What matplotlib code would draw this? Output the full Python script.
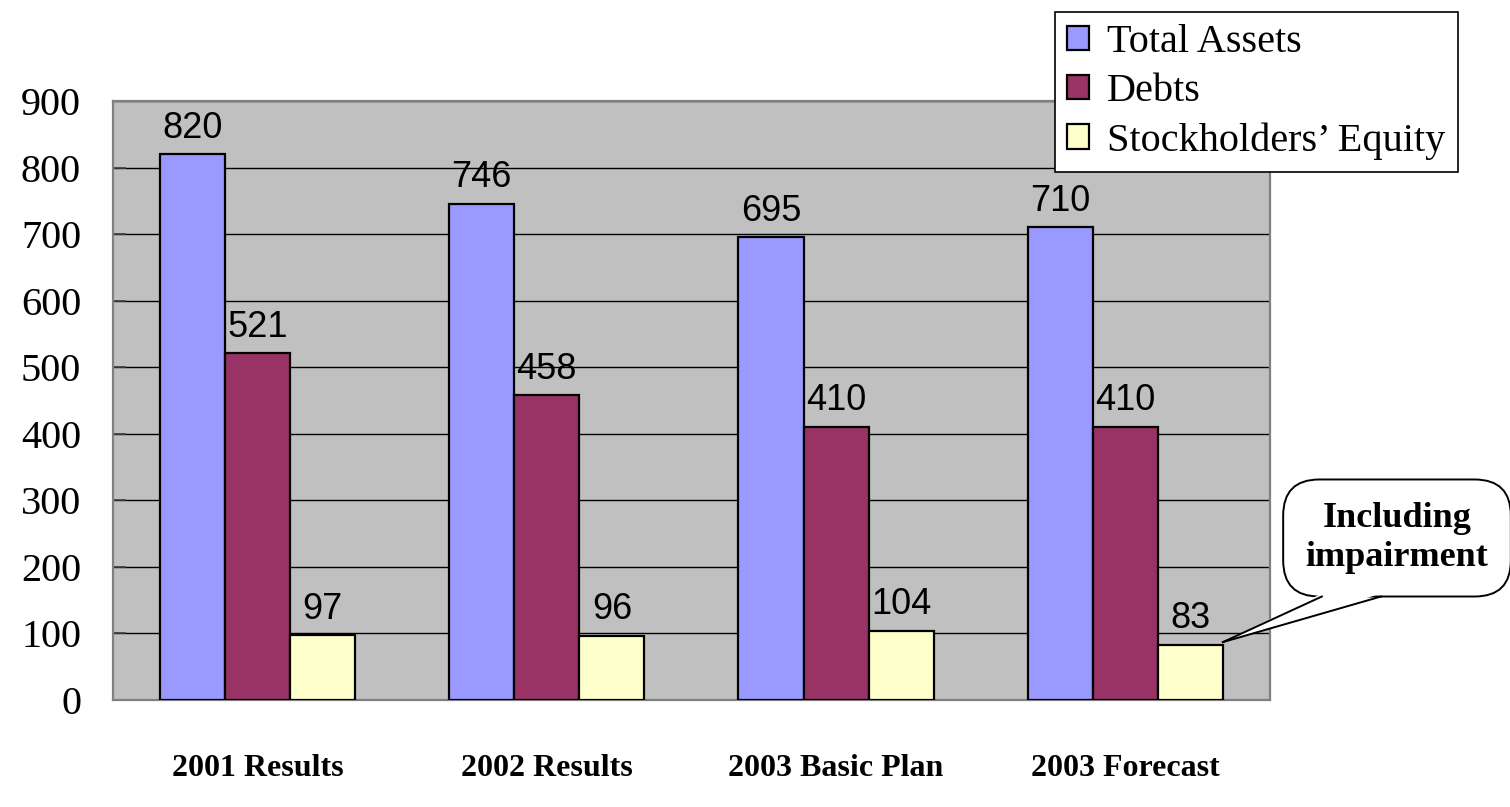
"""Balance sheet overview: total assets, debts and stockholders' equity by period."""
import matplotlib

matplotlib.use("Agg")
import matplotlib.pyplot as plt
import numpy as np
from matplotlib.lines import Line2D
from matplotlib.patches import Polygon
from matplotlib.transforms import IdentityTransform

BLUE = "#9999FF"
MAROON = "#993366"
CREAM = "#FFFFCC"
PLOT_BG = "#C0C0C0"
SERIF = "Liberation Serif"
SANS = "Liberation Sans"

periods = ["2001 Results", "2002 Results", "2003 Basic Plan", "2003 Forecast"]
total_assets = [820, 746, 695, 710]
debts = [521, 458, 410, 410]
equity = [97, 96, 104, 83]
y_ticks = list(range(0, 1000, 100))

series = [("Total Assets", total_assets, BLUE),
          ("Debts", debts, MAROON),
          ("Stockholders\u2019 Equity", equity, CREAM)]

fig = plt.figure(figsize=(15.1, 8.07), dpi=100)
ax = fig.add_axes([0.0748, 0.1326, 0.7662, 0.7422])
ax.set_facecolor(PLOT_BG)

x = np.arange(len(periods))
w = 0.225
for i, (name, vals, col) in enumerate(series):
    off = (i - 1) * w
    bars = ax.bar(x + off, vals, w, color=col, edgecolor="black", lw=1.6,
                  label=name, zorder=3)
    for b, v in zip(bars, vals):
        ax.annotate(f"{v}", (b.get_x() + b.get_width() / 2, v),
                    textcoords="offset points", xytext=(0, 12), ha="center",
                    va="baseline", fontsize=26, family=SANS, color="black",
                    zorder=4)

ax.set_xlim(-0.5, len(periods) - 0.5)
ax.set_ylim(0, 900)
ax.set_yticks(y_ticks)
ax.set_yticklabels([str(t) for t in y_ticks], fontsize=29, family=SERIF)
ax.set_xticks(x)
ax.set_xticklabels(periods, fontsize=23, family=SERIF, fontweight="bold")
ax.tick_params(axis="x", length=0, pad=39)
ax.tick_params(axis="y", direction="in", length=9, width=1.2, color="#404040",
               pad=23)
ax.yaxis.grid(True, color="black", lw=1.0, zorder=1)
ax.set_axisbelow(True)
for s in ax.spines.values():
    s.set_color("#808080")
    s.set_linewidth(1.6)

leg = fig.legend(loc="upper left", bbox_to_anchor=(1055 / 1510, 1 - 12 / 807),
                 prop={"family": SERIF, "size": 29}, frameon=True, fancybox=False,
                 edgecolor="black", framealpha=1, handlelength=0.55,
                 handleheight=0.55, handletextpad=0.45, borderpad=0.3,
                 labelspacing=0.3, borderaxespad=0)
leg.get_frame().set_linewidth(1.2)

# speech-bubble note pointing at the top-right corner of the forecast equity bar
note = fig.text(1397 / 1510, 1 - 538 / 807, "Including\nimpairment",
                ha="center", va="center", fontsize=26, family=SERIF,
                fontweight="bold", linespacing=1.25, zorder=6,
                bbox=dict(boxstyle="round,pad=0.62,rounding_size=1.0",
                          fc="white", ec="black", lw=1.4))
fig.canvas.draw()
box = note.get_bbox_patch().get_window_extent(fig.canvas.get_renderer())
tip = ax.transData.transform((x[-1] + 1.5 * w, equity[-1] + 4))
b0 = (box.x0 + 0.17 * box.width, box.y0)
b1 = (box.x0 + 0.43 * box.width, box.y0)
fill = Polygon([(b0[0], b0[1] + 3), tip, (b1[0], b1[1] + 3)], closed=True,
               fc="white", ec="none", transform=IdentityTransform(), zorder=7)
fig.add_artist(fill)
for base in (b0, b1):
    fig.add_artist(Line2D([base[0], tip[0]], [base[1], tip[1]], color="black",
                          lw=1.4, transform=IdentityTransform(), zorder=8))

fig.savefig("out.png", dpi=100)
